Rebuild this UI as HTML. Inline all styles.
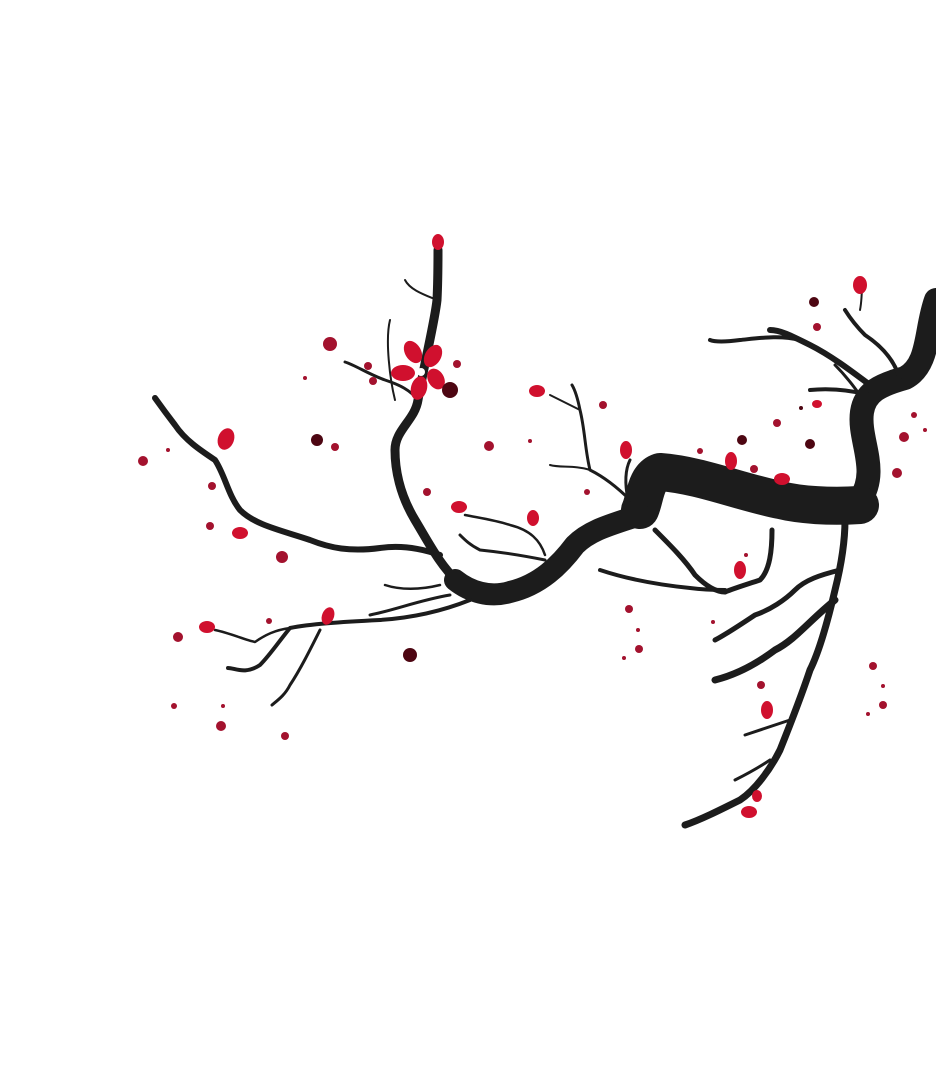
<!DOCTYPE html>
<html><head><meta charset="utf-8"><style>html,body{margin:0;padding:0;background:#fff;width:936px;height:1079px;overflow:hidden}</style></head>
<body>
<svg width="936" height="1079" viewBox="0 0 936 1079" xmlns="http://www.w3.org/2000/svg">
<g fill="none" stroke="#1c1c1c" stroke-linecap="round" stroke-linejoin="round">
<path d="M936,300 C925,330 930,365 905,378 C880,385 865,392 862,412 C858,440 880,470 860,500" stroke-width="24"/>
<path d="M860,505 C830,507 800,505 780,500 C740,492 700,475 660,472 C645,477 645,500 640,510" stroke-width="38"/>
<path d="M640,515 C610,525 590,530 575,545 C560,565 540,585 510,592 C490,598 470,592 455,580" stroke-width="22"/>
<path d="M458,582 C440,565 430,545 415,520 C400,495 395,470 395,450 C395,430 415,420 418,400 C425,360 435,320 437,300 C438,280 438,265 438,250" stroke-width="9"/>
<path d="M418,400 C410,390 400,385 385,380 C370,375 355,365 345,362" stroke-width="3"/>
<path d="M437,300 C425,295 410,290 405,280" stroke-width="2"/>
<path d="M395,400 C390,380 385,340 390,320" stroke-width="2"/>
<path d="M440,555 C420,548 400,545 380,548 C350,552 330,548 310,540 C280,530 255,525 240,510 C228,495 225,475 215,460 C200,450 185,440 175,425 C165,412 160,405 155,398" stroke-width="6"/>
<path d="M470,600 C440,612 410,618 380,620 C340,622 310,624 290,628 C280,640 270,655 260,665 C245,675 235,668 228,668" stroke-width="4"/>
<path d="M320,630 C310,650 300,670 290,685 C285,695 278,700 272,705" stroke-width="3"/>
<path d="M215,630 C230,633 245,640 255,642 C265,635 275,630 290,628" stroke-width="2.5"/>
<path d="M450,595 C420,600 395,610 370,615" stroke-width="3"/>
<path d="M440,585 C420,590 400,590 385,585" stroke-width="2.5"/>
<path d="M545,560 C520,555 500,552 480,550 C470,545 465,540 460,535" stroke-width="3"/>
<path d="M545,555 C540,540 530,530 510,525 C495,520 480,518 465,515" stroke-width="2.5"/>
<path d="M630,500 C615,485 600,475 590,470 C585,450 585,430 580,410 C578,400 575,390 572,385" stroke-width="3"/>
<path d="M590,470 C575,465 560,468 550,465" stroke-width="2"/>
<path d="M580,410 C570,405 560,400 550,395" stroke-width="2"/>
<path d="M628,500 C625,485 625,470 630,460" stroke-width="3"/>
<path d="M655,530 C670,545 685,560 695,575 C705,585 715,592 725,592" stroke-width="5"/>
<path d="M600,570 C630,580 660,585 690,588 C705,590 715,590 725,590" stroke-width="4"/>
<path d="M772,530 C772,550 770,570 760,580 C745,585 735,588 725,592" stroke-width="5"/>
<path d="M845,520 C845,545 840,570 835,590 C828,620 820,650 810,670 C800,700 790,725 780,750 C770,770 755,790 740,800 C720,810 700,820 685,825" stroke-width="7"/>
<path d="M840,570 C820,575 805,580 795,590 C785,600 770,610 755,615 C740,625 725,635 715,640" stroke-width="5"/>
<path d="M835,600 C810,620 795,640 775,650 C755,665 735,675 715,680" stroke-width="7"/>
<path d="M790,720 C775,725 760,730 745,735" stroke-width="3"/>
<path d="M770,760 C755,770 745,775 735,780" stroke-width="3"/>
<path d="M870,385 C850,370 830,355 810,345 C790,335 780,330 770,330" stroke-width="6"/>
<path d="M800,340 C780,335 760,338 740,340 C725,342 715,342 710,340" stroke-width="4"/>
<path d="M900,380 C895,360 880,345 865,335 C855,325 850,318 845,310" stroke-width="4"/>
<path d="M870,395 C850,390 830,388 810,390" stroke-width="4"/>
<path d="M862,280 C862,290 862,300 860,310" stroke-width="2"/>
<path d="M870,410 C860,395 850,380 835,365" stroke-width="3"/>
</g>
<g fill="#d0102e">
<ellipse cx="438" cy="242" rx="6" ry="8"/>
<ellipse cx="226" cy="439" rx="8" ry="11" transform="rotate(20 226 439)"/>
<ellipse cx="240" cy="533" rx="8" ry="6"/>
<ellipse cx="207" cy="627" rx="8" ry="6"/>
<ellipse cx="328" cy="616" rx="6" ry="9" transform="rotate(20 328 616)"/>
<ellipse cx="459" cy="507" rx="8" ry="6"/>
<ellipse cx="533" cy="518" rx="6" ry="8"/>
<ellipse cx="537" cy="391" rx="8" ry="6"/>
<ellipse cx="626" cy="450" rx="6" ry="9"/>
<ellipse cx="731" cy="461" rx="6" ry="9"/>
<ellipse cx="782" cy="479" rx="8" ry="6"/>
<ellipse cx="740" cy="570" rx="6" ry="9"/>
<ellipse cx="767" cy="710" rx="6" ry="9"/>
<ellipse cx="757" cy="796" rx="5" ry="6"/>
<ellipse cx="749" cy="812" rx="8" ry="6"/>
<ellipse cx="860" cy="285" rx="7" ry="9"/>
<ellipse cx="817" cy="404" rx="5" ry="4"/>
</g>
<g fill="#d0102e">
<ellipse cx="413" cy="352" rx="8" ry="12" transform="rotate(-30 413 352)"/>
<ellipse cx="433" cy="356" rx="8" ry="12" transform="rotate(30 433 356)"/>
<ellipse cx="403" cy="373" rx="12" ry="8"/>
<ellipse cx="419" cy="388" rx="8" ry="12" transform="rotate(15 419 388)"/>
<ellipse cx="436" cy="379" rx="8" ry="11" transform="rotate(-30 436 379)"/>
<circle cx="421" cy="372" r="4" fill="#fff"/>
</g>
<g fill="#a3122e">
<circle cx="330" cy="344" r="7"/><circle cx="368" cy="366" r="4"/><circle cx="373" cy="381" r="4"/>
<circle cx="457" cy="364" r="4"/><circle cx="305" cy="378" r="2"/><circle cx="143" cy="461" r="5"/>
<circle cx="168" cy="450" r="2"/><circle cx="212" cy="486" r="4"/><circle cx="210" cy="526" r="4"/>
<circle cx="335" cy="447" r="4"/><circle cx="282" cy="557" r="6"/><circle cx="427" cy="492" r="4"/>
<circle cx="489" cy="446" r="5"/><circle cx="530" cy="441" r="2"/><circle cx="587" cy="492" r="3"/>
<circle cx="603" cy="405" r="4"/><circle cx="700" cy="451" r="3"/><circle cx="754" cy="469" r="4"/>
<circle cx="777" cy="423" r="4"/><circle cx="817" cy="327" r="4"/><circle cx="914" cy="415" r="3"/>
<circle cx="925" cy="430" r="2"/><circle cx="904" cy="437" r="5"/><circle cx="897" cy="473" r="5"/>
<circle cx="178" cy="637" r="5"/><circle cx="269" cy="621" r="3"/><circle cx="174" cy="706" r="3"/>
<circle cx="223" cy="706" r="2"/><circle cx="221" cy="726" r="5"/><circle cx="285" cy="736" r="4"/>
<circle cx="629" cy="609" r="4"/><circle cx="638" cy="630" r="2"/><circle cx="639" cy="649" r="4"/>
<circle cx="624" cy="658" r="2"/><circle cx="713" cy="622" r="2"/><circle cx="761" cy="685" r="4"/>
<circle cx="873" cy="666" r="4"/><circle cx="883" cy="686" r="2"/><circle cx="883" cy="705" r="4"/>
<circle cx="868" cy="714" r="2"/><circle cx="746" cy="555" r="2"/>
</g>
<g fill="#4d0612">
<circle cx="450" cy="390" r="8"/><circle cx="317" cy="440" r="6"/><circle cx="410" cy="655" r="7"/>
<circle cx="742" cy="440" r="5"/><circle cx="810" cy="444" r="5"/><circle cx="814" cy="302" r="5"/>
<circle cx="801" cy="408" r="2"/>
</g>
</svg>
</body></html>
